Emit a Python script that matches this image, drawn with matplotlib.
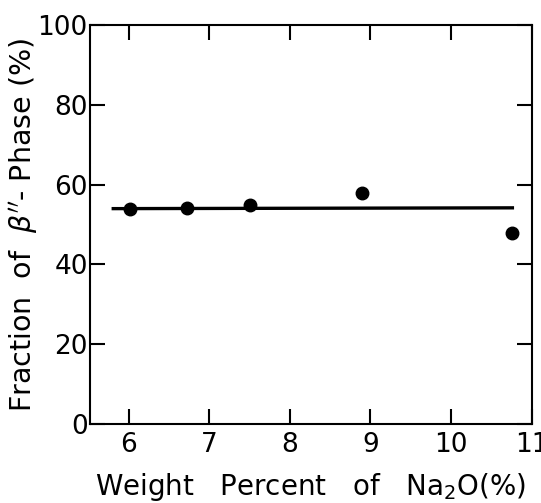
import matplotlib
matplotlib.use("Agg")
import matplotlib.pyplot as plt

na2o_pct = [6.02, 6.72, 7.51, 8.90, 10.76]
beta_fraction = [53.8, 54.1, 54.9, 58.0, 48.0]
fit_x = [5.79, 10.78]
fit_y = [54.0, 54.2]
xticks = [6, 7, 8, 9, 10, 11]
yticks = [0, 20, 40, 60, 80, 100]

plt.rcParams['font.family'] = ['DejaVu Sans']
plt.rcParams['mathtext.fontset'] = 'dejavusans'

fig = plt.figure(figsize=(5.41, 5.03), dpi=100)
ax = fig.add_axes([0.166, 0.157, 0.817, 0.793])

ax.plot(fit_x, fit_y, color='black', lw=2.4, solid_capstyle='butt')
ax.plot(na2o_pct, beta_fraction, 'o', color='black', markersize=9)

ax.set_xlim(5.52, 11)
ax.set_ylim(0, 100)
ax.set_xticks(xticks)
ax.set_yticks(yticks)
ax.set_xticklabels([str(t) for t in xticks])
ax.set_yticklabels([str(t) for t in yticks])
ax.tick_params(direction='in', length=11, width=1.5, top=True, right=True,
               labelsize=19)
ax.tick_params(axis='y', pad=1.5)
ax.tick_params(axis='x', pad=6)
for s in ax.spines.values():
    s.set_linewidth(1.5)

ax.set_xlabel('Weight   Percent   of   Na$_2$O(%)', fontsize=20, labelpad=9)
ax.set_ylabel("Fraction  of  $\\beta''$- Phase (%)", fontsize=20.5)
ax.yaxis.set_label_coords(-0.112, 0.5)

fig.savefig('out.png', dpi=100)
